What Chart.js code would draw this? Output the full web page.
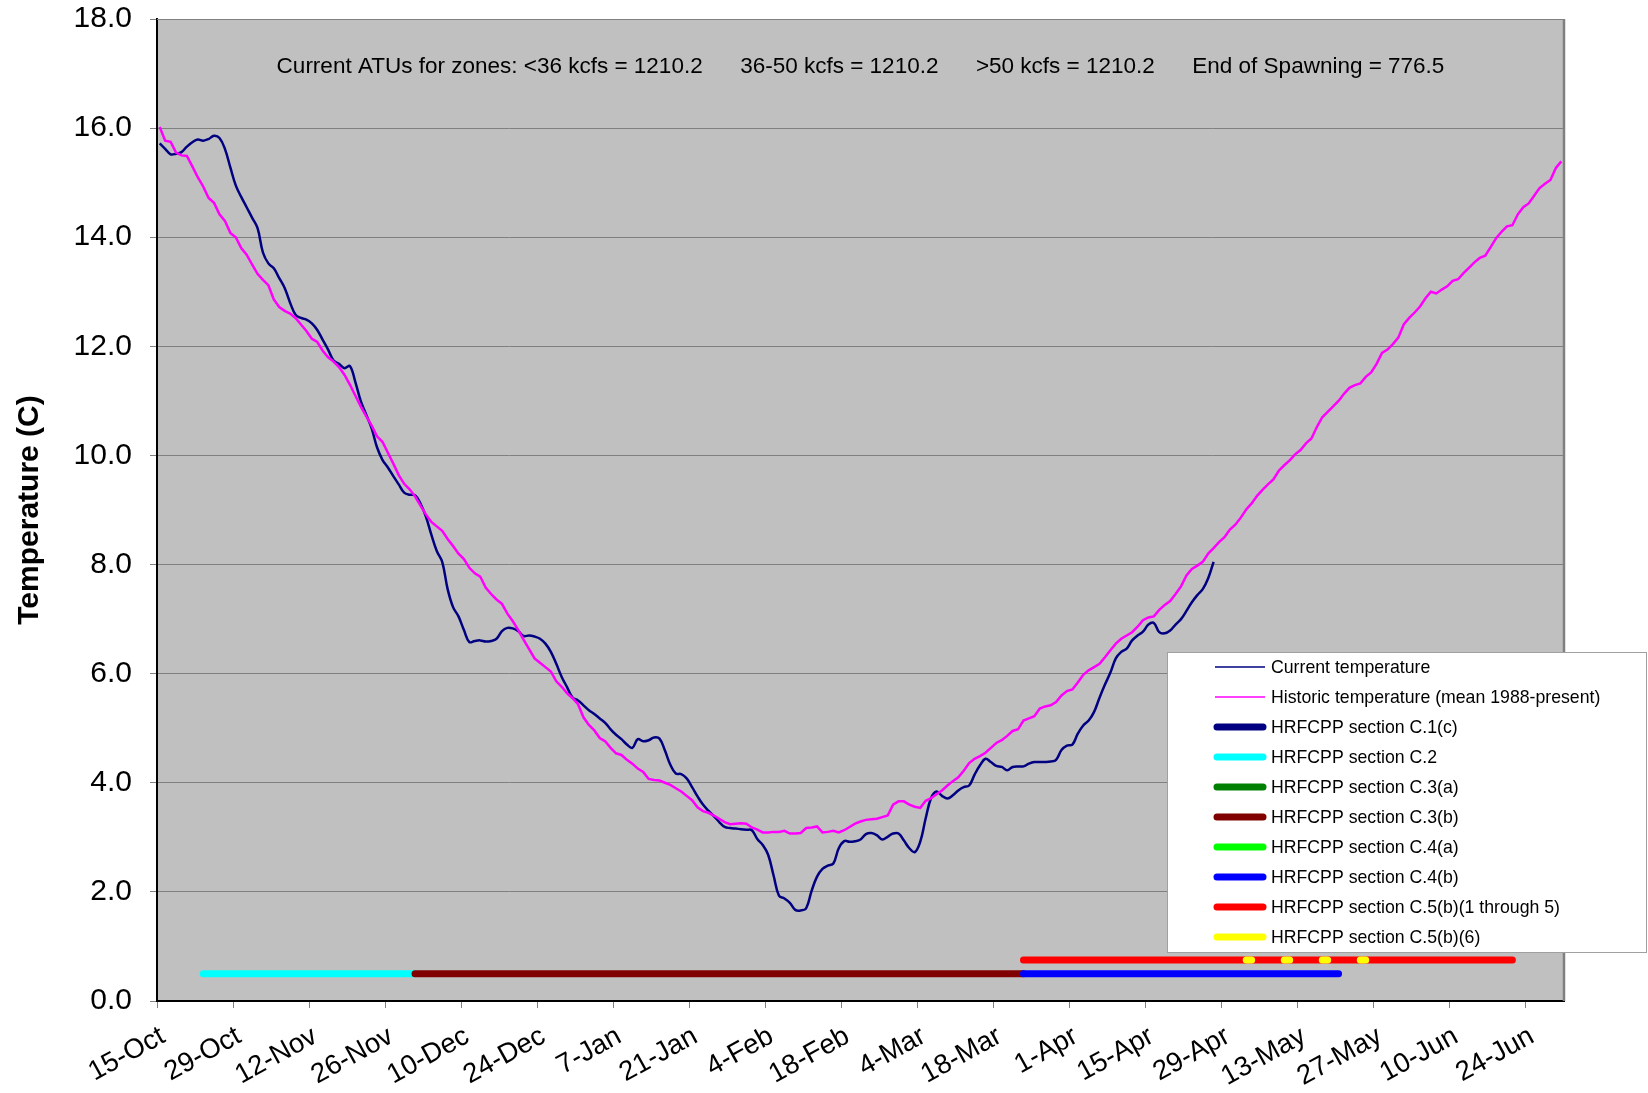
<!DOCTYPE html>
<html>
<head>
<meta charset="utf-8">
<script src="https://cdn.jsdelivr.net/npm/chart.js@4.4.1/dist/chart.umd.min.js"></script>
<style>
  html, body { margin: 0; padding: 0; background: #fff; }
  #wrap { width: 1648px; height: 1093px; }
</style>
</head>
<body>
<div id="wrap"><canvas id="temperature-chart" width="1648" height="1093"></canvas></div>
<script>
// one value per day, day 0 = 15-Oct
const tickLabels = ['15-Oct', '29-Oct', '12-Nov', '26-Nov', '10-Dec', '24-Dec', '7-Jan', '21-Jan', '4-Feb',
  '18-Feb', '4-Mar', '18-Mar', '1-Apr', '15-Apr', '29-Apr', '13-May', '27-May', '10-Jun', '24-Jun'];
const tickStep = 14; // days between labels
const dayCount = 259; // 15-Oct .. 30-Jun

const currentTemps = [
  15.72, 15.62, 15.52, 15.53, 15.56, 15.66, 15.74, 15.79, 15.77, 15.80,
  15.86, 15.82, 15.62, 15.28, 14.95, 14.74, 14.55, 14.36, 14.17, 13.72,
  13.52, 13.43, 13.25, 13.07, 12.80, 12.58, 12.52, 12.49, 12.42, 12.30,
  12.12, 11.94, 11.74, 11.68, 11.60, 11.64, 11.35, 11.00, 10.75, 10.50,
  10.15, 9.92, 9.78, 9.62, 9.47, 9.32, 9.28, 9.27, 9.12, 8.88,
  8.55, 8.25, 8.05, 7.55, 7.22, 7.05, 6.80, 6.58, 6.60, 6.61,
  6.59, 6.60, 6.64, 6.78, 6.84, 6.83, 6.78, 6.69, 6.70, 6.68,
  6.64, 6.55, 6.40, 6.18, 5.94, 5.75, 5.56, 5.51, 5.42, 5.33,
  5.26, 5.18, 5.10, 4.98, 4.88, 4.80, 4.70, 4.64, 4.80, 4.76,
  4.78, 4.83, 4.81, 4.59, 4.33, 4.17, 4.16, 4.08, 3.92, 3.75,
  3.60, 3.49, 3.39, 3.28, 3.19, 3.17, 3.16, 3.15, 3.14, 3.13,
  2.97, 2.86, 2.68, 2.30, 1.93, 1.88, 1.80, 1.67, 1.66, 1.70,
  2.02, 2.28, 2.42, 2.48, 2.52, 2.80, 2.93, 2.92, 2.93, 2.96,
  3.06, 3.08, 3.04, 2.96, 3.01, 3.07, 3.07, 2.94, 2.80, 2.73,
  2.92, 3.35, 3.72, 3.84, 3.76, 3.71, 3.77, 3.86, 3.92, 3.95,
  4.15, 4.32, 4.44, 4.38, 4.31, 4.29, 4.23, 4.29, 4.30, 4.30,
  4.35, 4.38, 4.38, 4.38, 4.39, 4.42, 4.60, 4.68, 4.70, 4.90,
  5.05, 5.14, 5.30, 5.56, 5.80, 6.02, 6.28, 6.40, 6.46, 6.61,
  6.70, 6.77, 6.90, 6.93, 6.76, 6.74, 6.79, 6.90, 7.00, 7.15,
  7.31, 7.44, 7.55, 7.75, 8.05
];

const historicTemps = [
  16.02, 15.77, 15.75, 15.55, 15.50, 15.49, 15.30, 15.10, 14.93, 14.72,
  14.63, 14.42, 14.30, 14.08, 14.00, 13.80, 13.68, 13.50, 13.33, 13.22,
  13.12, 12.86, 12.72, 12.65, 12.60, 12.52, 12.40, 12.28, 12.14, 12.08,
  11.92, 11.80, 11.72, 11.62, 11.48, 11.30, 11.10, 10.90, 10.72, 10.55,
  10.35, 10.25, 10.05, 9.85, 9.64, 9.48, 9.38, 9.25, 9.08, 8.92,
  8.78, 8.70, 8.62, 8.47, 8.34, 8.20, 8.10, 7.94, 7.84, 7.78,
  7.58, 7.46, 7.36, 7.28, 7.10, 6.96, 6.80, 6.62, 6.45, 6.28,
  6.20, 6.12, 6.04, 5.86, 5.76, 5.64, 5.55, 5.44, 5.20, 5.06,
  4.96, 4.82, 4.76, 4.64, 4.54, 4.51, 4.42, 4.35, 4.26, 4.20,
  4.07, 4.05, 4.04, 4.00, 3.96, 3.90, 3.84, 3.76, 3.68, 3.55,
  3.48, 3.45, 3.40, 3.34, 3.28, 3.24, 3.25, 3.26, 3.25, 3.18,
  3.14, 3.09, 3.09, 3.10, 3.10, 3.12, 3.07, 3.07, 3.08, 3.17,
  3.18, 3.20, 3.09, 3.10, 3.12, 3.09, 3.13, 3.19, 3.25, 3.29,
  3.32, 3.33, 3.34, 3.37, 3.40, 3.60, 3.66, 3.66, 3.60, 3.56,
  3.54, 3.67, 3.72, 3.79, 3.86, 3.95, 4.03, 4.10, 4.22, 4.36,
  4.44, 4.49, 4.55, 4.64, 4.73, 4.78, 4.86, 4.95, 4.98, 5.14,
  5.18, 5.22, 5.36, 5.40, 5.42, 5.48, 5.60, 5.68, 5.71, 5.84,
  5.98, 6.06, 6.12, 6.18, 6.30, 6.43, 6.55, 6.64, 6.70, 6.76,
  6.86, 6.98, 7.03, 7.05, 7.17, 7.26, 7.33, 7.46, 7.60, 7.80,
  7.92, 7.98, 8.05, 8.20, 8.30, 8.41, 8.50, 8.64, 8.73, 8.86,
  9.01, 9.12, 9.26, 9.37, 9.47, 9.56, 9.72, 9.82, 9.91, 10.02,
  10.10, 10.22, 10.31, 10.52, 10.70, 10.80, 10.90, 11.00, 11.13, 11.24,
  11.29, 11.32, 11.44, 11.52, 11.68, 11.88, 11.94, 12.04, 12.16, 12.40,
  12.52, 12.62, 12.73, 12.88, 13.00, 12.97, 13.04, 13.10, 13.20, 13.23,
  13.34, 13.44, 13.54, 13.62, 13.66, 13.82, 13.98, 14.10, 14.20, 14.22,
  14.42, 14.55, 14.62, 14.76, 14.90, 14.98, 15.05, 15.27, 15.39
];

// HRFCPP periods: [first day, last day], drawn at a fixed level
const lowLevel = 0.5;
const highLevel = 0.75;
const c1cDays = [];
const c2Days = [8, 47];
const c3aDays = [];
const c3bDays = [47, 159];
const c4aDays = [];
const c4bDays = [159, 217];
const c5Days = [159, 249];
const c56Days = [200, 207, 214, 221]; // one-day marks

const atuText = 'Current ATUs for zones: <36 kcfs = 1210.2      36-50 kcfs = 1210.2      >50 kcfs = 1210.2      End of Spawning = 776.5';

Chart.defaults.font.family = '"Liberation Sans", Arial, sans-serif';
Chart.defaults.color = '#000';

const daily = arr => arr.map((v, i) => ({ x: i + 0.5, y: v }));
const period = (days, level) => days.map(d => ({ x: d + 0.5, y: level }));
const marks = (days, level) => {
  const out = [];
  days.forEach(d => {
    out.push({ x: d + 0.5, y: level }, { x: d + 1.5, y: level }, { x: d + 1.5, y: null });
  });
  return out;
};

const bar = (label, color, data, order) => ({
  label: label, data: data, borderColor: color, backgroundColor: color,
  borderWidth: 7, borderCapStyle: 'round', pointRadius: 0, order: order, spanGaps: false
});

const plotFrame = {
  id: 'plotFrame',
  beforeDraw(chart) {
    const { ctx, chartArea: a } = chart;
    ctx.save();
    ctx.fillStyle = '#C0C0C0';
    ctx.fillRect(a.left, a.top, a.right - a.left, a.bottom - a.top);
    ctx.restore();
  },
  afterDatasetsDraw(chart) {
    const { ctx, chartArea: a } = chart;
    ctx.save();
    ctx.strokeStyle = '#808080';
    ctx.lineWidth = 1;
    ctx.beginPath();
    ctx.moveTo(a.left, a.top + 0.5);
    ctx.lineTo(a.right, a.top + 0.5);
    ctx.stroke();
    ctx.lineWidth = 2.5;
    ctx.beginPath();
    ctx.moveTo(a.right, a.top);
    ctx.lineTo(a.right, a.bottom);
    ctx.stroke();
    ctx.fillStyle = '#000';
    ctx.font = '22.5px "Liberation Sans", Arial, sans-serif';
    ctx.textAlign = 'center';
    ctx.textBaseline = 'middle';
    ctx.fillText(atuText, (a.left + a.right) / 2, a.top + 48);
    ctx.restore();
  }
};

const boxLegend = {
  id: 'boxLegend',
  afterDraw(chart) {
    const ctx = chart.ctx;
    const left = 1167, top = 652, w = 480, h = 301;
    ctx.save();
    ctx.fillStyle = '#fff';
    ctx.fillRect(left, top, w, h);
    ctx.strokeStyle = '#a0a0a0';
    ctx.lineWidth = 1;
    ctx.strokeRect(left + 0.5, top + 0.5, w - 1, h - 1);
    ctx.font = '17.7px "Liberation Sans", Arial, sans-serif';
    ctx.textBaseline = 'middle';
    ctx.textAlign = 'left';
    chart.data.datasets.forEach((ds, i) => {
      const y = top + 15 + i * 30;
      const thick = ds.borderWidth > 4;
      ctx.strokeStyle = ds.borderColor;
      ctx.lineWidth = thick ? ds.borderWidth : 1.5;
      ctx.lineCap = thick ? 'round' : 'butt';
      ctx.beginPath();
      ctx.moveTo(thick ? left + 50 : left + 48, y);
      ctx.lineTo(thick ? left + 96 : left + 98, y);
      ctx.stroke();
      ctx.fillStyle = '#000';
      ctx.fillText(ds.label, left + 104, y + 1);
    });
    ctx.restore();
  }
};

new Chart(document.getElementById('temperature-chart').getContext('2d'), {
  type: 'line',
  data: {
    datasets: [
      { label: 'Current temperature', data: daily(currentTemps), borderColor: '#000080',
        borderWidth: 2.5, pointRadius: 0, tension: 0.4, order: 10 },
      { label: 'Historic temperature (mean 1988-present)', data: daily(historicTemps), borderColor: '#FF00FF',
        borderWidth: 2.5, pointRadius: 0, tension: 0, order: 9 },
      bar('HRFCPP section C.1(c)', '#000080', period(c1cDays, lowLevel), 8),
      bar('HRFCPP section C.2', '#00FFFF', period(c2Days, lowLevel), 7),
      bar('HRFCPP section C.3(a)', '#008000', period(c3aDays, lowLevel), 6),
      bar('HRFCPP section C.3(b)', '#800000', period(c3bDays, lowLevel), 5),
      bar('HRFCPP section C.4(a)', '#00FF00', period(c4aDays, lowLevel), 4),
      bar('HRFCPP section C.4(b)', '#0000FF', period(c4bDays, lowLevel), 3),
      bar('HRFCPP section C.5(b)(1 through 5)', '#FF0000', period(c5Days, highLevel), 2),
      bar('HRFCPP section C.5(b)(6)', '#FFFF00', marks(c56Days, highLevel), 1)
    ]
  },
  options: {
    responsive: false,
    animation: false,
    events: [],
    layout: { padding: { top: 19, right: 84, bottom: 0, left: 0 } },
    plugins: { legend: { display: false }, tooltip: { enabled: false } },
    scales: {
      x: {
        type: 'linear',
        min: 0,
        max: dayCount,
        afterBuildTicks: scale => { scale.ticks = tickLabels.map((_, i) => ({ value: i * tickStep })); },
        afterFit: scale => { scale.height = 92; },
        ticks: {
          autoSkip: false,
          minRotation: 29,
          maxRotation: 29,
          padding: 12,
          labelOffset: 6,
          font: { size: 27.5 },
          color: '#000',
          callback: value => tickLabels[Math.round(value / tickStep)]
        },
        grid: { drawOnChartArea: false, drawTicks: true, tickLength: 7, color: '#808080' },
        border: { color: '#000', width: 2 }
      },
      y: {
        min: 0,
        max: 18,
        afterFit: scale => {
          scale.width = 157;
          scale.paddingTop = 0;
          scale.paddingBottom = 0;
        },
        ticks: {
          stepSize: 2,
          padding: 18,
          font: { size: 30 },
          color: '#000',
          callback: value => value.toFixed(1)
        },
        grid: { color: '#808080', lineWidth: 1, tickLength: 7 },
        border: { color: '#000', width: 2 },
        title: {
          display: true,
          text: 'Temperature (C)',
          font: { size: 30, weight: 'bold' },
          color: '#000',
          padding: { top: 12, bottom: 0 }
        }
      }
    }
  },
  plugins: [plotFrame, boxLegend]
});
</script>
</body>
</html>
